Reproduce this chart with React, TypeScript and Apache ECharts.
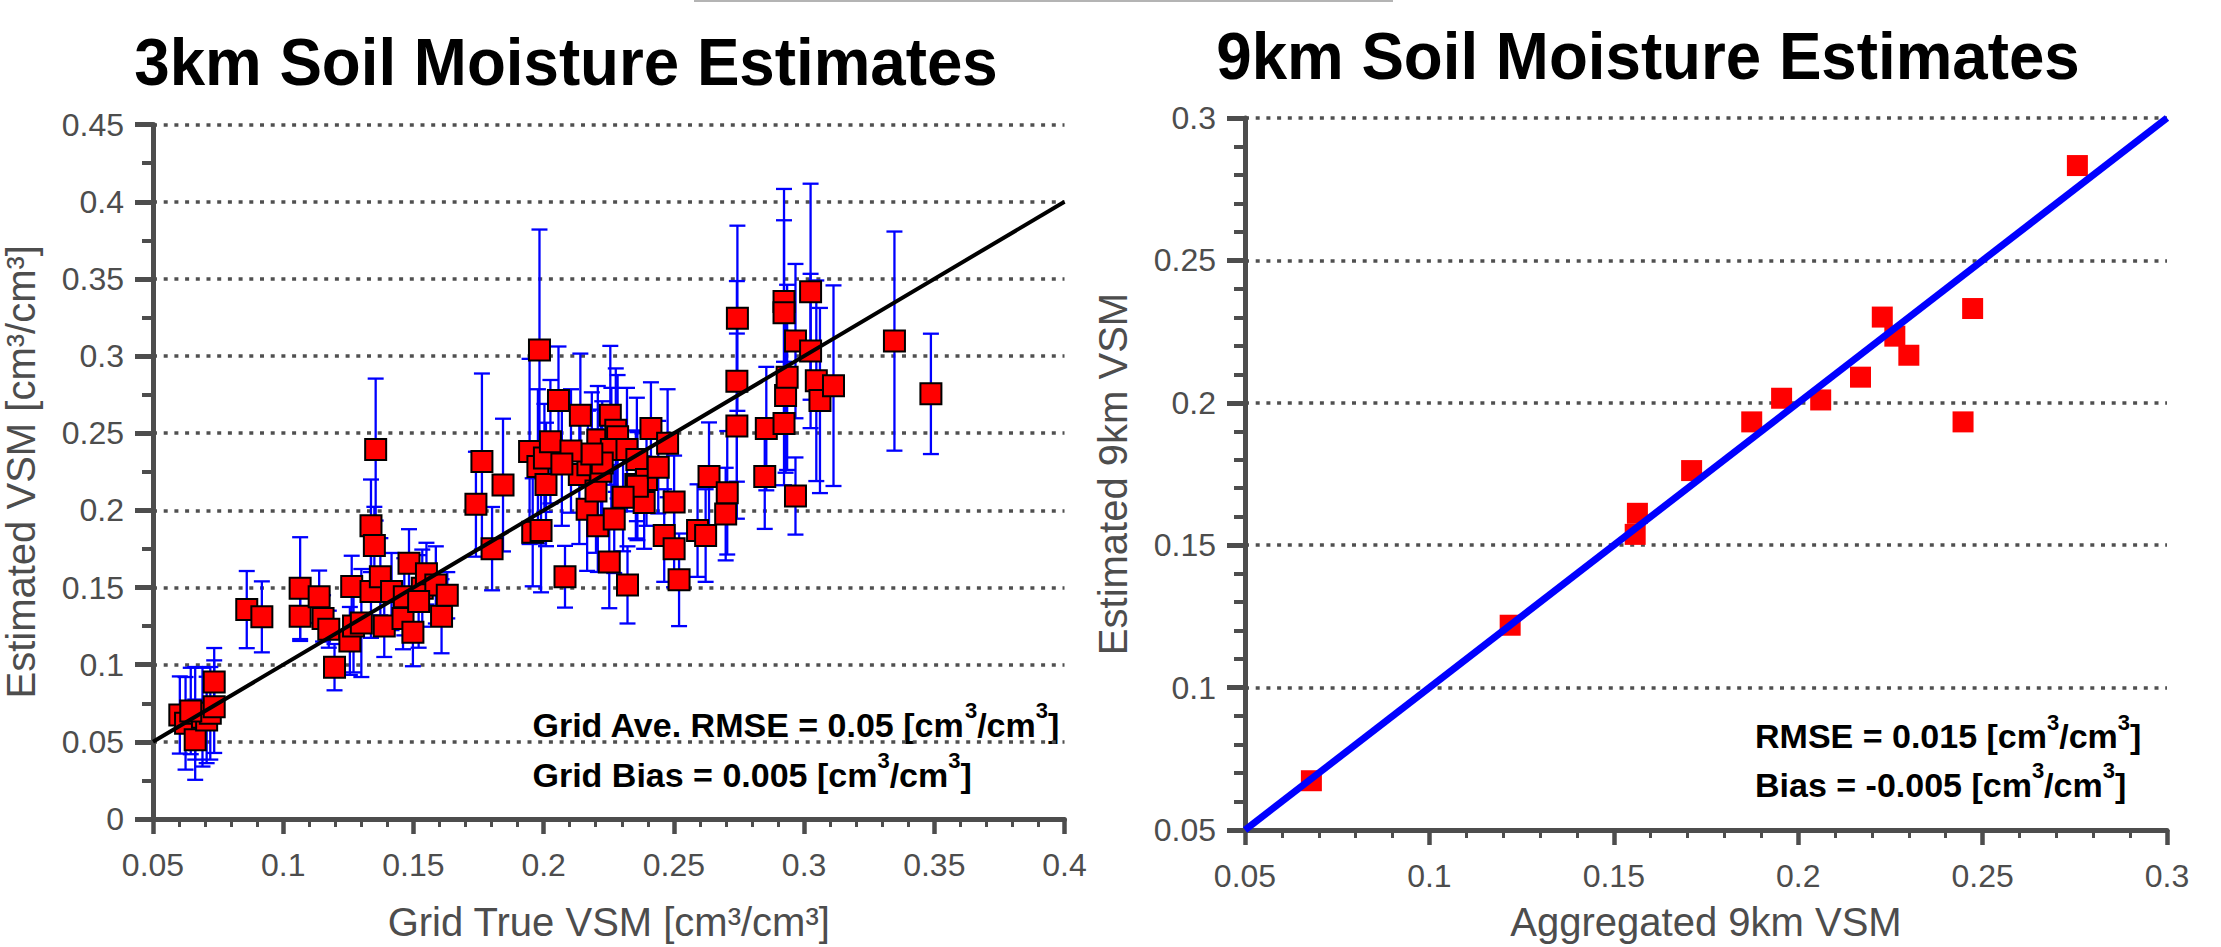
import React, { useEffect, useRef } from 'react';
import * as echarts from 'echarts';

// ---------- 3 km panel data ----------
const true3km = [
  0.0603, 0.0625, 0.0662, 0.0662, 0.0690, 0.0706, 0.0720, 0.0735, 0.0735, 0.0645,
  0.0860, 0.0918,
  0.1065, 0.1065, 0.1138, 0.1153, 0.1175, 0.1197, 0.1263, 0.1256, 0.1270, 0.1300,
  0.1337, 0.1337, 0.1350, 0.1355, 0.1373, 0.1388, 0.1416, 0.1460, 0.1465, 0.1483, 0.1498, 0.1534, 0.1550, 0.1586, 0.1608, 0.1630, 0.1520,
  0.1740, 0.1763, 0.1802, 0.1844,
  0.1946, 0.1958, 0.1978, 0.1984, 0.1990, 0.2003, 0.2009, 0.2026, 0.2057, 0.2082,
  0.2137, 0.2141, 0.2167, 0.2170, 0.2201, 0.2208, 0.2208, 0.2220, 0.2252, 0.2256, 0.2271, 0.2277, 0.2284, 0.2260, 0.2225,
  0.2320, 0.2322, 0.2354, 0.2358, 0.2386, 0.2395, 0.2412, 0.2463, 0.2476, 0.2501, 0.2501, 0.2520,
  0.2591, 0.2622, 0.2635, 0.2699, 0.2705, 0.2744, 0.2742, 0.2742,
  0.2855, 0.2849, 0.2923, 0.2929, 0.2935, 0.2923, 0.2923, 0.2967, 0.2967, 0.3025, 0.3025, 0.3047, 0.3061, 0.3113, 0.3347, 0.3487,
  0.2360, 0.2305, 0.2185, 0.2105, 0.2440, 0.2070,
];
const est3km = [
  0.0674, 0.0620, 0.0685, 0.0514, 0.0660, 0.0642, 0.0685, 0.0728, 0.0888, 0.0700,
  0.1357, 0.1310,
  0.1496, 0.1314, 0.1440, 0.1300, 0.1230, 0.0984, 0.1506, 0.1154, 0.1250, 0.1270,
  0.1474, 0.1900, 0.1773, 0.2394, 0.1570, 0.1250, 0.1474, 0.1300, 0.1440, 0.1658, 0.1210, 0.1496, 0.1590, 0.1517, 0.1314, 0.1450, 0.1410,
  0.2040, 0.2317, 0.1752, 0.2164,
  0.2382, 0.1858, 0.2285, 0.3040, 0.1869, 0.2340, 0.2168, 0.2445, 0.2712, 0.1570,
  0.2232, 0.2616, 0.2008, 0.2296, 0.2125, 0.2456, 0.1901, 0.2253, 0.1666, 0.2616, 0.1944, 0.2520, 0.2477, 0.2394, 0.2307,
  0.2394, 0.1517, 0.2168, 0.2330, 0.2051, 0.2200, 0.2530, 0.1837, 0.2435, 0.2055, 0.1752, 0.1550,
  0.1869, 0.1837, 0.2220, 0.1976, 0.2114, 0.3245, 0.2836, 0.2546,
  0.2530, 0.2220, 0.2563, 0.2744, 0.2862, 0.3353, 0.3280, 0.3097, 0.2093, 0.3417, 0.3033, 0.2840, 0.2712, 0.2808, 0.3097, 0.2755,
  0.2157, 0.2085, 0.2365, 0.2385, 0.2280, 0.2300,
];
const err3km = [
  0.025, 0.030, 0.030, 0.026, 0.032, 0.028, 0.030, 0.030, 0.022, 0.028,
  0.025, 0.023,
  0.033, 0.016, 0.017, 0.015, 0.012, 0.015, 0.020, 0.022, 0.030, 0.035,
  0.030, 0.030, 0.025, 0.046, 0.025, 0.020, 0.025, 0.020, 0.025, 0.022, 0.022, 0.025, 0.020, 0.025, 0.024, 0.015, 0.030,
  0.034, 0.057, 0.027, 0.043,
  0.060, 0.035, 0.050, 0.078, 0.040, 0.035, 0.040, 0.040, 0.035, 0.020,
  0.045, 0.040, 0.040, 0.035, 0.040, 0.035, 0.030, 0.040, 0.030, 0.045, 0.035, 0.040, 0.040, 0.040, 0.040,
  0.040, 0.025, 0.035, 0.040, 0.030, 0.030, 0.030, 0.030, 0.035, 0.030, 0.025, 0.030,
  0.030, 0.030, 0.035, 0.030, 0.040, 0.060, 0.065, 0.060,
  0.040, 0.034, 0.040, 0.050, 0.060, 0.073, 0.060, 0.050, 0.025, 0.070, 0.050, 0.065, 0.060, 0.065, 0.071, 0.039,
  0.035, 0.035, 0.040, 0.040, 0.030, 0.040,
];
const oneToOne3km = [0.05, 0.4];

// ---------- 9 km panel data ----------
const agg9km = [0.0680, 0.1219, 0.1558, 0.1564, 0.1711, 0.1874, 0.1955, 0.2061, 0.2169, 0.2228, 0.2262, 0.2300, 0.2447, 0.2473, 0.2757];
const est9km = [0.0673, 0.1219, 0.1538, 0.1612, 0.1762, 0.1933, 0.2016, 0.2010, 0.2090, 0.2301, 0.2234, 0.2167, 0.1933, 0.2331, 0.2833];
const oneToOne9km = [0.05, 0.3];

// ---------- texts ----------
const titles = ['3km Soil Moisture Estimates', '9km Soil Moisture Estimates'];
const axisNames = {
  x3: 'Grid True VSM [cm³/cm³]',
  y3: 'Estimated VSM [cm³/cm³]',
  x9: 'Aggregated 9km VSM',
  y9: 'Estimated 9km VSM',
};
const stats3km = ['Grid Ave. RMSE = 0.05', 'Grid Bias = 0.005'];
const stats9km = ['RMSE = 0.015', 'Bias = -0.005'];

const FONT = '"Liberation Sans", Arial, Helvetica, sans-serif';
const AX = '#4d4d4d';

const fmt = (v: number) => String(parseFloat(Number(v).toFixed(3)));

// rich-text statistic line with raised superscripts: "<label> [cm^3/cm^3]"
const statText = (s: string) => `{b|${s} [cm}{s|3}{b|/cm}{s|3}{b|]}`;
const statRich = {
  b: { font: `bold 34px ${FONT}`, fill: '#000', lineHeight: 50 },
  s: { font: `bold 22px ${FONT}`, fill: '#000', lineHeight: 22, verticalAlign: 'top' },
};

function valueAxis(opts: any) {
  const { gridIndex, min, max, interval, minorSplit, name, nameGap, isY, tickLen, minorLen, tickW, minorW } = opts;
  return {
    gridIndex,
    type: 'value',
    min,
    max,
    interval,
    name,
    nameLocation: 'middle',
    nameGap,
    nameTextStyle: { fontSize: 40, color: AX, fontFamily: FONT },
    axisLine: { show: true, onZero: false, lineStyle: { color: AX, width: 5 } },
    axisTick: { show: true, length: tickLen, lineStyle: { color: AX, width: tickW } },
    minorTick: { show: true, splitNumber: minorSplit, length: minorLen, lineStyle: { color: AX, width: minorW } },
    axisLabel: { fontSize: 32, color: AX, fontFamily: FONT, margin: isY ? 29 : 30, formatter: fmt, showMinLabel: true, showMaxLabel: true },
    splitLine: isY
      ? { show: true, lineStyle: { color: '#505050', width: 3.5, type: [4, 6.7] } }
      : { show: false },
    minorSplitLine: { show: false },
  };
}

function statGraphic(x: number, baseline: number, s: string) {
  return {
    type: 'text',
    x,
    y: baseline - 0.35 * 34,
    style: { text: statText(s), rich: statRich, font: `bold 34px ${FONT}`, fill: '#000', textAlign: 'left', textVerticalAlign: 'middle' },
  };
}

function titleGraphic(cx: number, baseline: number, s: string) {
  const fs = 66;
  return {
    type: 'text',
    x: cx,
    y: baseline - 0.35 * fs,
    scaleX: 0.965,
    style: { text: s, font: `bold ${fs}px ${FONT}`, fill: '#000', textAlign: 'center', textVerticalAlign: 'middle' },
  };
}

export default function App() {
  const ref = useRef<HTMLDivElement>(null);

  useEffect(() => {
    if (!ref.current) return;
    const chart = echarts.init(ref.current, undefined, { renderer: 'svg' });

    const errData = true3km.map((x, i) => [x, est3km[i], err3km[i]]);
    const pts3 = true3km.map((x, i) => [x, est3km[i]]);
    const pts9 = agg9km.map((x, i) => [x, est9km[i]]);

    const option: any = {
      animation: false,
      backgroundColor: '#ffffff',
      grid: [
        { left: 151, top: 124.6, width: 913.5, height: 702.4 },
        { left: 1245, top: 118, width: 922, height: 714 },
      ],
      xAxis: [
        valueAxis({ gridIndex: 0, min: 0.05, max: 0.4, interval: 0.05, minorSplit: 5, name: axisNames.x3, nameGap: 83, isY: false, tickLen: 15, minorLen: 8, tickW: 4.5, minorW: 3 }),
        valueAxis({ gridIndex: 1, min: 0.05, max: 0.3, interval: 0.05, minorSplit: 5, name: axisNames.x9, nameGap: 72, isY: false, tickLen: 15, minorLen: 8, tickW: 4.5, minorW: 3 }),
      ],
      yAxis: [
        valueAxis({ gridIndex: 0, min: 0, max: 0.45, interval: 0.05, minorSplit: 2, name: axisNames.y3, nameGap: 112, isY: true, tickLen: 18, minorLen: 11, tickW: 5, minorW: 4 }),
        valueAxis({ gridIndex: 1, min: 0.05, max: 0.3, interval: 0.05, minorSplit: 5, name: axisNames.y9, nameGap: 112, isY: true, tickLen: 18, minorLen: 11, tickW: 5, minorW: 4 }),
      ],
      series: [
        {
          type: 'custom',
          xAxisIndex: 0,
          yAxisIndex: 0,
          z: 2,
          data: errData,
          encode: { x: 0, y: 1 },
          renderItem: (params: any, api: any) => {
            const x = api.value(0);
            const y = api.value(1);
            const e = api.value(2);
            const top = api.coord([x, y + e]);
            const bot = api.coord([x, y - e]);
            const hw = 8;
            const style = { stroke: '#0000ff', lineWidth: 2.3, fill: null };
            return {
              type: 'group',
              children: [
                { type: 'line', shape: { x1: top[0], y1: top[1], x2: bot[0], y2: bot[1] }, style },
                { type: 'line', shape: { x1: top[0] - hw, y1: top[1], x2: top[0] + hw, y2: top[1] }, style },
                { type: 'line', shape: { x1: bot[0] - hw, y1: bot[1], x2: bot[0] + hw, y2: bot[1] }, style },
              ],
            };
          },
        },
        {
          type: 'scatter',
          xAxisIndex: 0,
          yAxisIndex: 0,
          z: 3,
          symbol: 'rect',
          symbolSize: 21,
          itemStyle: { color: '#ff0000', borderColor: '#000000', borderWidth: 2, opacity: 1 },
          data: pts3,
        },
        {
          type: 'line',
          xAxisIndex: 0,
          yAxisIndex: 0,
          z: 4,
          symbol: 'none',
          lineStyle: { color: '#000000', width: 4 },
          data: [[oneToOne3km[0], oneToOne3km[0]], [oneToOne3km[1], oneToOne3km[1]]],
        },
        {
          type: 'scatter',
          xAxisIndex: 1,
          yAxisIndex: 1,
          z: 3,
          symbol: 'rect',
          symbolSize: 21,
          itemStyle: { color: '#ff0000', opacity: 1 },
          data: pts9,
        },
        {
          type: 'line',
          xAxisIndex: 1,
          yAxisIndex: 1,
          z: 4,
          symbol: 'none',
          lineStyle: { color: '#0000ff', width: 7 },
          data: [[oneToOne9km[0], oneToOne9km[0]], [oneToOne9km[1], oneToOne9km[1]]],
        },
      ],
      graphic: [
        { type: 'rect', shape: { x: 694, y: 0, width: 699, height: 2 }, style: { fill: '#b4b4b4' } },
        titleGraphic(566, 85, titles[0]),
        titleGraphic(1648, 79, titles[1]),
        statGraphic(532.5, 736.7, stats3km[0]),
        statGraphic(532.5, 786.7, stats3km[1]),
        statGraphic(1755, 748.3, stats9km[0]),
        statGraphic(1755, 796.7, stats9km[1]),
      ],
    };

    chart.setOption(option);
    return () => chart.dispose();
  }, []);

  return (
    <div
      ref={ref}
      style={{ position: 'fixed', left: 0, top: 0, width: 2221, height: 947, background: '#fff' }}
    />
  );
}
